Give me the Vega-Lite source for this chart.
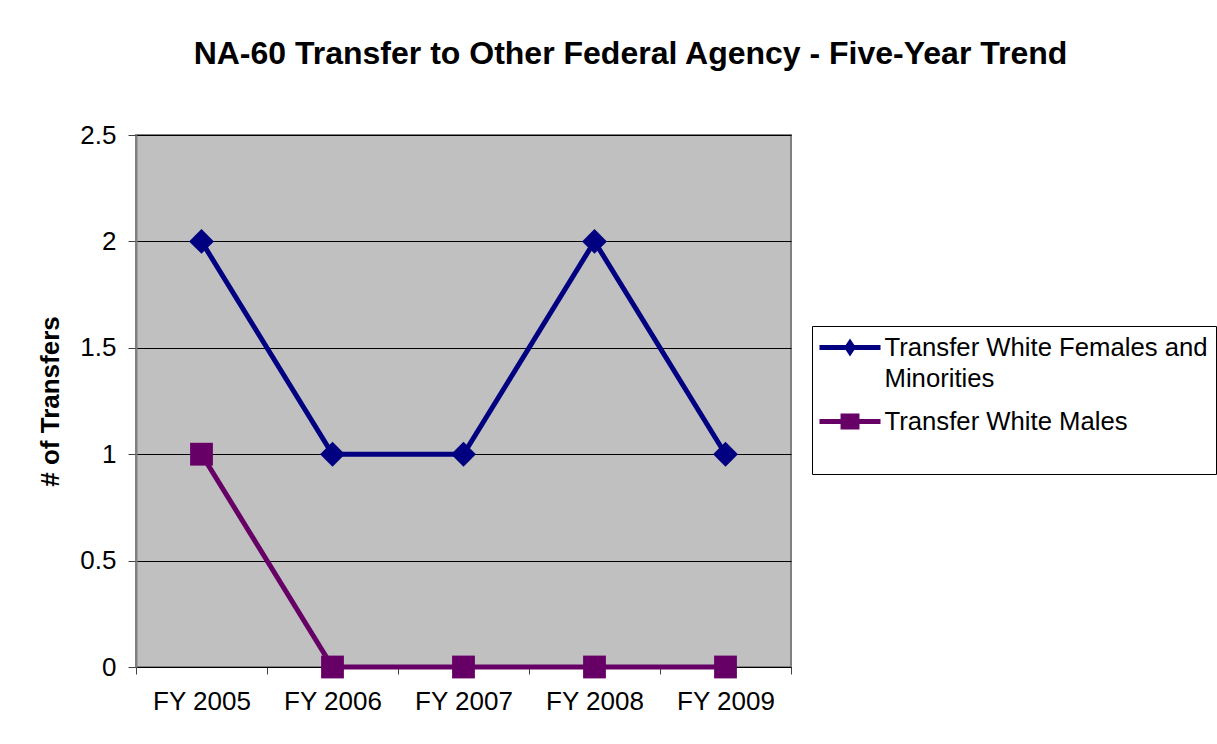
{
  "$schema": "https://vega.github.io/schema/vega-lite/v6.json",
  "width": 655,
  "height": 532,
  "autosize": {"type": "none"},
  "padding": {"left": 136, "top": 135, "right": 426, "bottom": 77},
  "background": "white",
  "title": {
    "text": "NA-60 Transfer to Other Federal Agency - Five-Year Trend",
    "font": "Liberation Sans",
    "fontSize": 32,
    "fontWeight": "bold",
    "color": "black",
    "anchor": "middle",
    "frame": "group",
    "dx": 167,
    "baseline": "alphabetic",
    "offset": 26
  },
  "config": {
    "view": {"fill": "#C0C0C0", "stroke": "#808080", "strokeWidth": 2},
    "font": "Liberation Sans"
  },
  "data": {
    "values": [
      {"year": "FY 2005", "series": "Transfer White Females and Minorities", "value": 2},
      {"year": "FY 2006", "series": "Transfer White Females and Minorities", "value": 1},
      {"year": "FY 2007", "series": "Transfer White Females and Minorities", "value": 1},
      {"year": "FY 2008", "series": "Transfer White Females and Minorities", "value": 2},
      {"year": "FY 2009", "series": "Transfer White Females and Minorities", "value": 1},
      {"year": "FY 2005", "series": "Transfer White Males", "value": 1},
      {"year": "FY 2006", "series": "Transfer White Males", "value": 0},
      {"year": "FY 2007", "series": "Transfer White Males", "value": 0},
      {"year": "FY 2008", "series": "Transfer White Males", "value": 0},
      {"year": "FY 2009", "series": "Transfer White Males", "value": 0}
    ]
  },
  "encoding": {
    "x": {
      "field": "year",
      "type": "nominal",
      "sort": null,
      "bandPosition": 0.5,
      "scale": {"type": "band", "paddingInner": 0, "paddingOuter": 0},
      "axis": {
        "title": null,
        "labelAngle": 0,
        "labelFont": "Liberation Sans",
        "labelFontSize": 26,
        "labelColor": "black",
        "labelPadding": 14,
        "tickBand": "extent",
        "tickSize": 7,
        "tickColor": "#404040",
        "domainColor": "black",
        "domainWidth": 1,
        "grid": false
      }
    },
    "y": {
      "field": "value",
      "type": "quantitative",
      "scale": {"domain": [0, 2.5], "nice": false},
      "axis": {
        "title": "# of Transfers",
        "titleFont": "Liberation Sans",
        "titleFontSize": 26,
        "titleFontWeight": "bold",
        "titleColor": "black",
        "titlePadding": 16,
        "values": [0, 0.5, 1, 1.5, 2, 2.5],
        "format": "~g",
        "labelFont": "Liberation Sans",
        "labelFontSize": 26,
        "labelColor": "black",
        "labelPadding": 12,
        "tickSize": 8,
        "tickColor": "#404040",
        "domainColor": "#808080",
        "domainWidth": 2,
        "grid": true,
        "gridColor": "black",
        "gridWidth": 1,
        "gridOpacity": 1
      }
    },
    "color": {
      "field": "series",
      "type": "nominal",
      "scale": {
        "domain": ["Transfer White Females and Minorities", "Transfer White Males"],
        "range": ["#000080", "#660066"]
      },
      "legend": {
        "orient": "none",
        "legendX": 676,
        "legendY": 191,
        "title": null,
        "strokeColor": "black",
        "fillColor": "white",
        "padding": 8,
        "labelFont": "Liberation Sans",
        "labelFontSize": 25.7,
        "labelColor": "black",
        "labelLimit": 600,
        "labelOffset": 21,
        "symbolSize": 729,
        "symbolStrokeWidth": 0,
        "symbolOffset": 16.5,
        "rowPadding": 16,
        "labelExpr": "datum.label == 'Transfer White Females and Minorities' ? ['Transfer White Females and', 'Minorities'] : [datum.label, '']",
        "encode": {
          "symbols": {
            "update": {
              "shape": {"signal": "datum.value == 'Transfer White Males' ? 'M-2.26,-0.18H2.26V0.18H-2.26Z M-0.7,-0.59H0.7V0.59H-0.7Z' : 'M-2.26,-0.18H2.26V0.18H-2.26Z M0,-0.67L0.44,0L0,0.67L-0.44,0Z'"},
              "fill": {"signal": "datum.value == 'Transfer White Males' ? '#660066' : '#000080'"},
              "strokeWidth": {"value": 0},
              "opacity": {"value": 1},
              "fillOpacity": {"value": 1}
            }
          },
          "labels": {
            "update": {
              "lineHeight": {"value": 31}
            }
          }
        }
      }
    }
  },
  "layer": [
    {
      "mark": {"type": "line", "strokeWidth": 5}
    },
    {
      "transform": [{"filter": "datum.series == 'Transfer White Females and Minorities'"}],
      "mark": {"type": "point", "shape": "diamond", "filled": true, "opacity": 1, "size": 620, "strokeWidth": 0}
    },
    {
      "transform": [{"filter": "datum.series == 'Transfer White Males'"}],
      "mark": {"type": "point", "shape": "square", "filled": true, "opacity": 1, "size": 520, "strokeWidth": 0}
    }
  ]
}
